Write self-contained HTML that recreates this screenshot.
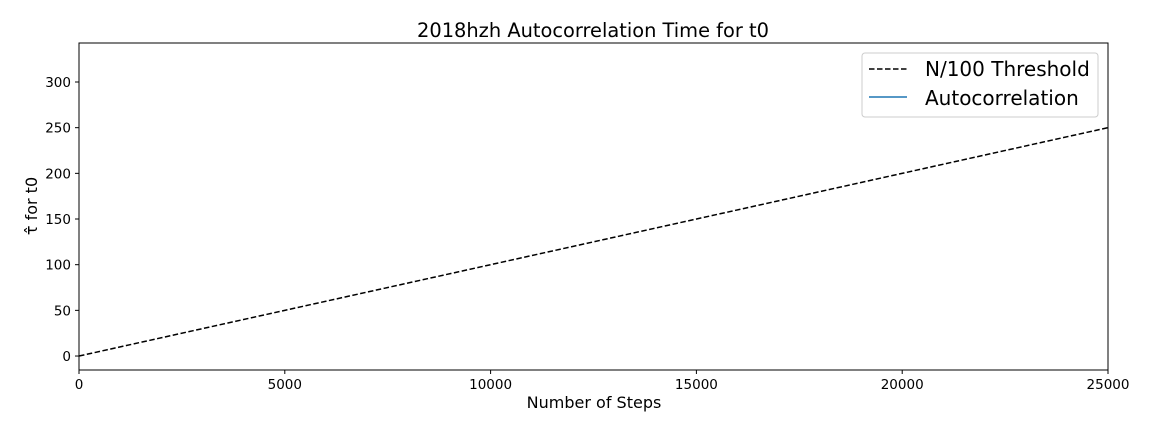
<!DOCTYPE html>
<html><head><meta charset="utf-8"><style>
body{margin:0;background:#fff;}
svg text{font-family:"DejaVu Sans","Liberation Sans",sans-serif;fill:#000;}
</style></head><body>
<svg id="chart" width="1152" height="432" xmlns="http://www.w3.org/2000/svg">
<rect width="1152" height="432" fill="#fff"/>
<text x="593" y="37" font-size="19.4" text-anchor="middle">2018hzh Autocorrelation Time for t0</text>
<g id="xticks"></g><g id="yticks"></g>
<path id="thresh" fill="none" stroke="#000" stroke-width="1.5" stroke-dasharray="5.5,2.5"/>
<rect x="79" y="43" width="1029" height="327" fill="none" stroke="#000" stroke-width="1"/>
<text x="594" y="408" font-size="16" text-anchor="middle">Number of Steps</text>
<text transform="translate(37,206) rotate(-90)" font-size="16" text-anchor="middle">τ̂ for t0</text>
<g>
<rect x="862" y="53" width="236" height="64" rx="3" fill="#fff" stroke="#ccc"/>
<line x1="869" y1="69" x2="907" y2="69" stroke="#000" stroke-width="1.5" stroke-dasharray="5.5,2.5"/>
<text x="925" y="76" font-size="20">N/100 Threshold</text>
<line x1="869" y1="97" x2="907" y2="97" stroke="#1f77b4" stroke-width="1.5"/>
<text x="925" y="105" font-size="20">Autocorrelation</text>
</g>
</svg>
<script>
const xTicks=[0,5000,10000,15000,20000,25000];
const yTicks=[0,50,100,150,200,250,300];
const thresholdSteps=[0,25000];
const thresholdValues=[0,250];
const X0=79,X1=1108,XMIN=0,XMAX=25000;
const YMIN=-15.3,YMAX=342.7,YB=370,YT=43;
const sx=v=>X0+(v-XMIN)/(XMAX-XMIN)*(X1-X0);
const sy=v=>YB-(v-YMIN)/(YMAX-YMIN)*(YB-YT);
const NS="http://www.w3.org/2000/svg";
const xg=document.getElementById('xticks'),yg=document.getElementById('yticks');
xTicks.forEach(t=>{
 const l=document.createElementNS(NS,'line');
 l.setAttribute('x1',sx(t));l.setAttribute('x2',sx(t));l.setAttribute('y1',370);l.setAttribute('y2',374);l.setAttribute('stroke','#000');
 
 
 xg.appendChild(l);
 const tx=document.createElementNS(NS,'text');
 tx.setAttribute('x',sx(t));tx.setAttribute('y',389);tx.setAttribute('font-size','13.5');tx.setAttribute('text-anchor','middle');tx.textContent=t;
 
 
 xg.appendChild(tx);
});
yTicks.forEach(t=>{
 const l=document.createElementNS(NS,'line');
 l.setAttribute('x1',75);l.setAttribute('x2',79);l.setAttribute('y1',sy(t));l.setAttribute('y2',sy(t));l.setAttribute('stroke','#000');
 
 
 yg.appendChild(l);
 const tx=document.createElementNS(NS,'text');
 tx.setAttribute('x',71);tx.setAttribute('y',sy(t)+5);tx.setAttribute('font-size','13.5');tx.setAttribute('text-anchor','end');tx.textContent=t;
 
 
 yg.appendChild(tx);
});
document.getElementById('thresh').setAttribute('d',thresholdSteps.map((s,i)=>(i?'L':'M')+sx(s)+','+sy(thresholdValues[i])).join(''));
</script>
</body></html>
